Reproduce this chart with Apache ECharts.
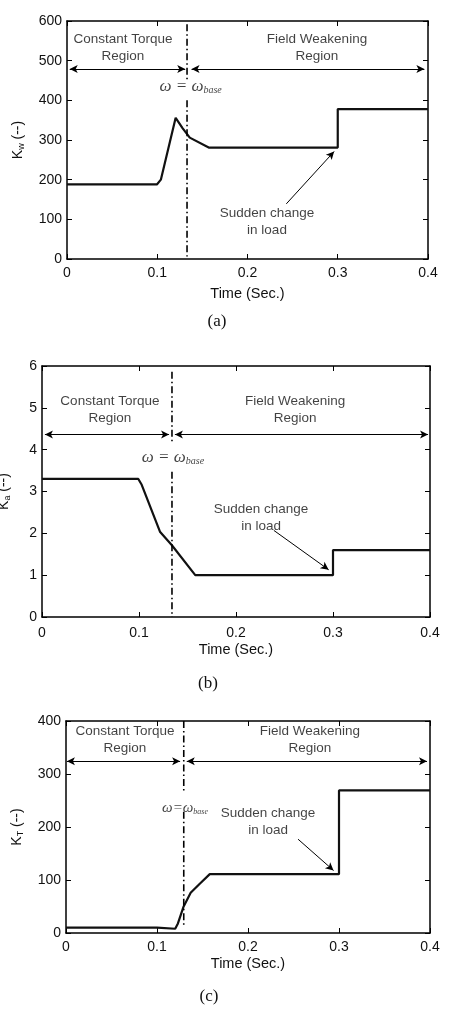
<!DOCTYPE html>
<html>
<head>
<meta charset="utf-8">
<script src="https://cdn.jsdelivr.net/npm/echarts@6/dist/echarts.min.js"></script>
<style>
  html, body { margin: 0; padding: 0; background: #fff; }
  #main { width: 456px; height: 1010px; }
</style>
</head>
<body>
<div id="main"></div>
<script>
// (a) K_w over time
const timeA = [0, 0.0996, 0.104, 0.1204, 0.128, 0.136, 0.157, 0.3, 0.3, 0.4]
const kwA = [188, 188, 200, 356, 330, 306, 281, 281, 378, 378]
// (b) K_a over time
const timeB = [0, 0.0993, 0.1028, 0.1216, 0.1337, 0.158, 0.3, 0.3, 0.4]
const kaB = [3.3, 3.3, 3.16, 2.04, 1.72, 1.0, 1.0, 1.6, 1.6]
// (c) K_T over time
const timeC = [0, 0.1, 0.1, 0.12, 0.123, 0.129, 0.137, 0.147, 0.158, 0.3, 0.3, 0.4]
const ktC = [10, 10, 8, 8, 18, 49, 76, 93, 111, 111, 269, 269]

// base speed markers (time) and value range of each dash-dot piece
const baseT = [0.133, 0.134, 0.1294]
const baseUpper = [[592, 452], [5.86, 4.15], [400, 263]]
const baseLower = [[400, 6], [3.47, 0], [229, 14]]

// region arrows: [y, left start, left end, right start, right end]
const regionArrows = [
  [479, 0.003, 0.131, 0.138, 0.396],
  [4.36, 0.003, 0.131, 0.137, 0.398],
  [324, 0.001, 0.1254, 0.1327, 0.3967]
]
// "sudden change" arrows: [x1, y1, x2, y2]
const loadArrows = [
  [0.243, 139, 0.296, 271],
  [0.239, 2.07, 0.2955, 1.13],
  [0.255, 177, 0.294, 118]
]

const yMax = [600, 6, 400]
const yStep = [100, 1, 100]
const yNames = ['w', 'a', 'T']
const captions = ['(a)', '(b)', '(c)']

const grids = [
  { left: 67, top: 21, width: 361, height: 238, outerBoundsMode: 'none' },
  { left: 42, top: 366, width: 388, height: 251, outerBoundsMode: 'none' },
  { left: 66, top: 721, width: 364, height: 212, outerBoundsMode: 'none' }
]
const yNameGap = [41, 30, 41]
const xNameGap = [27, 25, 23]
const xLabelMargin = [7, 9, 7]

const labelsA = [
  [0.062, 532, 'Constant Torque\nRegion'],
  [0.277, 532, 'Field Weakening\nRegion'],
  [0.2216, 93, 'Sudden change\nin load']
]
const labelsB = [
  [0.070, 4.95, 'Constant Torque\nRegion'],
  [0.261, 4.95, 'Field Weakening\nRegion'],
  [0.2258, 2.37, 'Sudden change\nin load']
]
const labelsC = [
  [0.0648, 364, 'Constant Torque\nRegion'],
  [0.268, 364, 'Field Weakening\nRegion'],
  [0.222, 209, 'Sudden change\nin load']
]
const omegaPos = [[0.137, 434], [0.135, 3.82], [0.1308, 236]]

const allLabels = [labelsA, labelsB, labelsC]
const curves = [[timeA, kwA], [timeB, kaB], [timeC, ktC]]

const textColor = '#111'
const font = 'Liberation Sans, Arial, sans-serif'

function pairs(xs, ys) {
  return xs.map((x, i) => [x, ys[i]])
}

let myChart = echarts.init(document.getElementById('main'))

let xAxes = []
let yAxes = []
let series = []

grids.forEach((g, i) => {
  let axisLine = { show: true, onZero: false, lineStyle: { color: '#000', width: 1.5 } }
  let tick = { show: true, inside: true, length: 5, lineStyle: { color: '#000', width: 1 } }
  xAxes.push({
    type: 'value', gridIndex: i, min: 0, max: 0.4, interval: 0.1, position: 'bottom',
    axisLine: axisLine, axisTick: tick, splitLine: { show: false },
    axisLabel: { color: textColor, fontSize: 14, fontFamily: font, margin: xLabelMargin[i] },
    name: 'Time (Sec.)', nameLocation: 'middle', nameGap: xNameGap[i],
    nameTextStyle: { color: textColor, fontSize: 14.5, fontFamily: font }
  })
  xAxes.push({
    type: 'value', gridIndex: i, min: 0, max: 0.4, interval: 0.1, position: 'top',
    axisLine: axisLine, axisTick: tick, splitLine: { show: false }, axisLabel: { show: false }
  })
  yAxes.push({
    type: 'value', gridIndex: i, min: 0, max: yMax[i], interval: yStep[i], position: 'left',
    axisLine: axisLine, axisTick: tick, splitLine: { show: false },
    axisLabel: { color: textColor, fontSize: 14, fontFamily: font, margin: 5 },
    name: '{k|K}{s|' + yNames[i] + '}{k| (--)}', nameLocation: 'middle', nameGap: yNameGap[i],
    nameTextStyle: {
      color: textColor, fontFamily: font,
      rich: {
        k: { fontSize: 14, color: textColor, fontFamily: font },
        s: { fontSize: 9, color: textColor, fontFamily: font, padding: [6, 0, 0, 0] }
      }
    }
  })
  yAxes.push({
    type: 'value', gridIndex: i, min: 0, max: yMax[i], interval: yStep[i], position: 'right',
    axisLine: axisLine, axisTick: tick, splitLine: { show: false }, axisLabel: { show: false }
  })

  let xi = i * 2
  let ra = regionArrows[i]
  let la = loadArrows[i]

  series.push({
    type: 'line', xAxisIndex: xi, yAxisIndex: xi,
    data: pairs(curves[i][0], curves[i][1]),
    showSymbol: false, symbol: 'none',
    lineStyle: { color: '#111', width: 2.2 },
    markLine: {
      silent: true, animation: false,
      label: { show: false },
      lineStyle: { color: '#000', width: 1, type: 'solid' },
      symbol: ['arrow', 'arrow'], symbolSize: [6, 8],
      data: [
        [{ coord: [ra[1], ra[0]] }, { coord: [ra[2], ra[0]] }],
        [{ coord: [ra[3], ra[0]] }, { coord: [ra[4], ra[0]] }],
        [{ coord: [la[0], la[1]], symbol: 'none' }, { coord: [la[2], la[3]], symbol: 'arrow' }]
      ]
    }
  })
  // dash-dot base speed line, broken around the label
  ;[baseUpper[i], baseLower[i]].forEach((seg) => {
    series.push({
      type: 'line', xAxisIndex: xi, yAxisIndex: xi,
      data: [[baseT[i], seg[0]], [baseT[i], seg[1]]],
      showSymbol: false, symbol: 'none',
      lineStyle: { color: '#000', width: 1.6, type: [7, 3, 1.5, 3] }
    })
  })
  // text annotations
  let omegaText = i === 2 ? '{w|ω=ω}{s|base}' : '{w|ω = ω}{s|base}'
  series.push({
    type: 'scatter', xAxisIndex: xi, yAxisIndex: xi,
    symbolSize: 0, silent: true,
    data: allLabels[i].map((d) => ({ value: [d[0], d[1]], name: d[2] }))
      .concat([{ value: omegaPos[i], name: omegaText }]),
    label: {
      show: true, position: 'inside',
      formatter: (p) => p.name,
      color: textColor, fontSize: 13.5, fontFamily: font, lineHeight: 17, align: 'center',
      rich: {
        w: { fontFamily: 'Liberation Serif, Times New Roman, serif', fontStyle: 'italic', fontSize: i === 2 ? 15 : 17, color: textColor },
        s: { fontFamily: 'Liberation Serif, Times New Roman, serif', fontStyle: 'italic', fontSize: i === 2 ? 8 : 10, color: textColor, padding: [8, 0, 0, 0] }
      }
    }
  })
})

let captionPos = [[217, 322], [208, 684], [209, 997]]
let graphics = captions.map((c, i) => ({
  type: 'text', x: captionPos[i][0], y: captionPos[i][1],
  style: { text: c, font: '17px "Liberation Serif", serif', fill: '#111', textAlign: 'center', textVerticalAlign: 'middle' }
}))

let option = {
  animation: false,
  backgroundColor: '#fff',
  grid: grids,
  xAxis: xAxes,
  yAxis: yAxes,
  series: series,
  graphic: graphics
}
myChart.setOption(option)
</script>
</body>
</html>
